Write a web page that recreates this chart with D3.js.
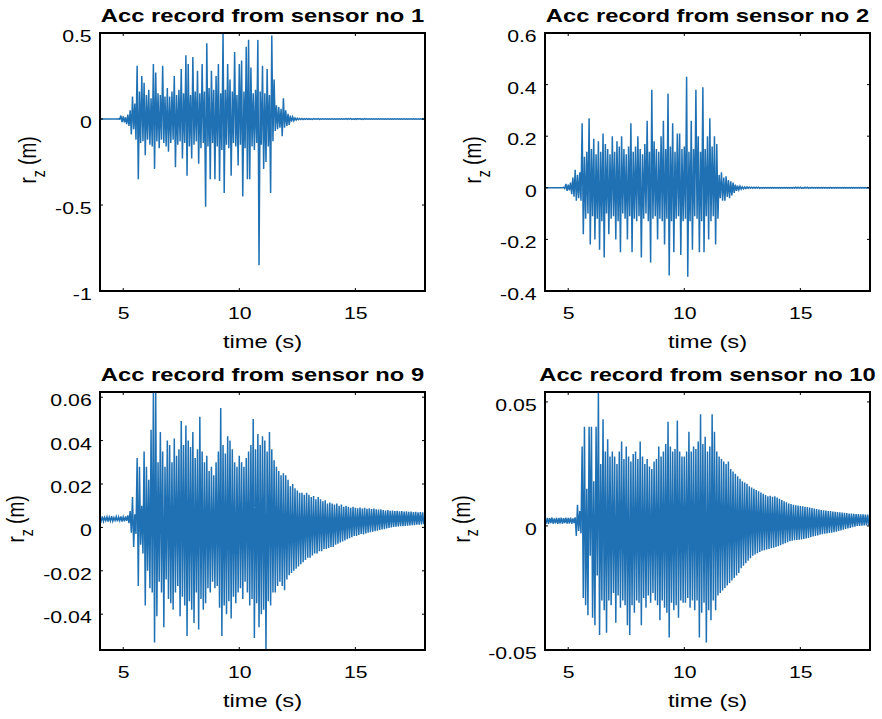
<!DOCTYPE html>
<html>
<head>
<meta charset="utf-8">
<script src="https://cdn.jsdelivr.net/npm/d3@7"></script>
<style>
  body { margin: 0; background: #fff; }
  svg { display: block; }
  text { font-family: "Liberation Sans", Arial, Helvetica, sans-serif; fill: #000; }
</style>
</head>
<body>
<script>
// sampling of the records (s)
const t0 = 4;
const dt = 0.05;

const xLimits = [4, 18];
const xTicks = [5, 10, 15];
const xTickLabels = ['5', '10', '15'];

const titles = [
    'Acc record from sensor no 1',
    'Acc record from sensor no 2',
    'Acc record from sensor no 9',
    'Acc record from sensor no 10'
];
const xLabel = 'time (s)';

const yLimits1 = [-1, 0.5];
const yTicks1 = [-1, -0.5, 0, 0.5];
const yTickLabels1 = ['-1', '-0.5', '0', '0.5'];

const yLimits2 = [-0.4, 0.6];
const yTicks2 = [-0.4, -0.2, 0, 0.2, 0.4, 0.6];
const yTickLabels2 = ['-0.4', '-0.2', '0', '0.2', '0.4', '0.6'];

const yLimits9 = [-0.0565, 0.0624];
const yTicks9 = [-0.04, -0.02, 0, 0.02, 0.04, 0.06];
const yTickLabels9 = ['-0.04', '-0.02', '0', '0.02', '0.04', '0.06'];

const yLimits10 = [-0.05, 0.054];
const yTicks10 = [-0.05, 0, 0.05];
const yTickLabels10 = ['-0.05', '0', '0.05'];

// r_z (m), one line per second, from t = 4 s
const sensor1 = [
    0,0,0,0,0,0,0,0,0,0,0,0,0,0,0,0,0.001,-0.002,0.02,-0.018,
    0.015,-0.02,0.01,-0.03,0.025,-0.04,0.05,-0.09,0.13,-0.06,0.09,-0.12,0.31,-0.35,0.16,-0.14,0.25,-0.13,0.21,-0.21,
    0.14,-0.12,0.17,-0.15,0.12,-0.16,0.32,-0.29,0.27,-0.13,0.15,-0.17,0.14,-0.12,0.31,-0.14,0.13,-0.16,0.18,-0.19,
    0.13,-0.14,0.16,-0.12,0.25,-0.28,0.14,-0.15,0.17,-0.13,0.29,-0.23,0.15,-0.14,0.37,-0.33,0.32,-0.16,0.14,-0.23,
    0.36,-0.15,0.16,-0.13,0.28,-0.26,0.15,-0.17,0.32,-0.14,0.16,-0.51,0.44,-0.16,0.18,-0.35,0.28,-0.14,0.17,-0.35,
    0.25,-0.16,0.32,-0.36,0.15,-0.18,0.5,-0.43,0.17,-0.15,0.32,-0.17,0.23,-0.33,0.16,-0.14,0.39,-0.16,0.14,-0.27,
    0.32,-0.15,0.34,-0.45,0.16,-0.17,0.42,-0.35,0.46,-0.35,0.3,-0.16,0.15,-0.18,0.17,-0.14,0.46,-0.85,0.16,-0.15,
    0.31,-0.29,0.15,-0.25,0.29,-0.16,0.14,-0.43,0.485,-0.13,0.23,-0.07,0.08,-0.06,0.07,-0.05,0.06,-0.1,0.12,-0.05,
    0.05,-0.04,0.03,-0.035,0.02,-0.015,0.012,-0.01,0.006,-0.006,0.004,-0.004,0.003,-0.003,0.003,-0.003,0.002,-0.002,0.002,-0.002,
    0.002,-0.002,0.001,-0.002,0.002,-0.001,0.001,-0.001,0.002,-0.002,0.001,-0.001,0.001,-0.001,0.001,-0.001,0.001,-0.001,0.001,-0.001,
    0.001,-0.001,0.001,-0.001,0.001,-0.001,0.001,-0.001,0.001,-0.001,0.001,-0.001,0.002,-0.002,0.002,-0.001,0.002,-0.002,0.001,-0.002,
    0.002,-0.002,0.002,-0.001,0.002,-0.002,0.001,-0.002,0.002,-0.001,0.001,-0.001,0.001,-0.001,0.001,-0.001,0.001,-0.001,0.001,-0.001,
    0.001,-0.001,0.001,-0.001,0.001,-0.001,0.001,-0.001,0.001,-0.001,0.001,-0.001,0.001,-0.001,0.001,-0.001,0.001,-0.001,0.001,-0.001,
    0.001,-0.001,0.001,-0.001,0.001,-0.001,0.001,-0.001,0.001,-0.001,0.001,-0.001,0.001,-0.001,0.001,-0.001,0.001,-0.001,0.001,-0.001,
    0
];

const sensor2 = [
    0,0,0,0,0,0,0,0,0,0,0,0,0,0,0,0,0.002,-0.003,0.015,-0.012,
    0.012,-0.01,0.02,-0.025,0.04,-0.035,0.07,-0.05,0.05,-0.04,0.06,-0.05,0.25,-0.18,0.12,-0.12,0.14,-0.1,0.27,-0.22,
    0.15,-0.11,0.19,-0.2,0.13,-0.12,0.18,-0.24,0.14,-0.13,0.21,-0.27,0.17,-0.1,0.15,-0.18,0.13,-0.12,0.2,-0.11,
    0.14,-0.2,0.18,-0.13,0.16,-0.25,0.2,-0.1,0.15,-0.12,0.13,-0.2,0.16,-0.11,0.25,-0.25,0.14,-0.12,0.16,-0.13,
    0.2,-0.11,0.15,-0.27,0.13,-0.12,0.17,-0.1,0.26,-0.13,0.14,-0.29,0.38,-0.12,0.18,-0.11,0.15,-0.2,0.14,-0.12,
    0.2,-0.13,0.26,-0.22,0.15,-0.12,0.365,-0.34,0.16,-0.13,0.25,-0.25,0.14,-0.12,0.21,-0.11,0.21,-0.26,0.15,-0.13,
    0.16,-0.12,0.43,-0.345,0.14,-0.13,0.26,-0.24,0.15,-0.11,0.38,-0.12,0.2,-0.25,0.14,-0.13,0.39,-0.25,0.15,-0.11,
    0.2,-0.2,0.27,-0.13,0.16,-0.11,0.2,-0.22,0.17,-0.12,0.05,-0.04,0.06,-0.05,0.04,-0.05,0.045,-0.035,0.03,-0.04,
    0.025,-0.03,0.02,-0.02,0.012,-0.012,0.008,-0.008,0.006,-0.005,0.004,-0.004,0.003,-0.003,0.003,-0.002,0.003,-0.002,0.002,-0.002,
    0.002,-0.002,0.002,-0.001,0.002,-0.002,0.001,-0.001,0.001,-0.001,0.001,-0.001,0.001,-0.001,0.001,-0.001,0.001,-0.001,0.001,-0.001,
    0.001,-0.001,0.001,-0.001,0.001,-0.001,0.001,-0.001,0.001,-0.001,0.001,-0.001,0.001,-0.001,0.001,-0.001,0.002,-0.002,0.002,-0.001,
    0.002,-0.002,0.001,-0.002,0.002,-0.001,0.002,-0.002,0.001,-0.001,0.002,-0.001,0.001,-0.001,0.001,-0.001,0.001,-0.001,0.001,-0.001,
    0.001,-0.001,0.001,-0.001,0.001,-0.001,0.001,-0.001,0.001,-0.001,0.001,-0.001,0.001,-0.001,0.001,-0.001,0.001,-0.001,0.001,-0.001,
    0.001,-0.001,0.001,-0.001,0.001,-0.001,0.001,-0.001,0.001,-0.001,0.001,-0.001,0.001,-0.001,0.001,-0.001,0.001,-0.001,0.001,-0.001,
    0
];

const sensor9 = [
    0.0045,0.003,0.005,0.0028,0.0046,0.0031,0.0049,0.0027,0.0047,0.003,0.0052,0.0029,0.0046,0.0032,0.005,0.0028,0.0048,0.0031,0.0051,0.0027,
    0.0048,0.0028,0.005,0.003,0.0055,0.002,0.0075,-0.0025,0.014,-0.009,0.006,-0.003,0.032,-0.027,0.028,-0.008,0.01,-0.012,0.035,-0.036,
    0.028,-0.02,0.022,-0.028,0.045,-0.03,0.066,-0.053,0.066,-0.041,0.03,-0.025,0.044,-0.03,0.035,-0.046,0.028,-0.024,0.04,-0.033,
    0.038,-0.035,0.03,-0.038,0.041,-0.03,0.033,-0.027,0.036,-0.041,0.049,-0.032,0.038,-0.036,0.047,-0.05,0.04,-0.034,0.037,-0.038,
    0.044,-0.044,0.032,-0.03,0.036,-0.047,0.051,-0.033,0.035,-0.038,0.03,-0.035,0.033,-0.028,0.026,-0.03,0.028,-0.025,0.024,-0.028,
    0.03,-0.027,0.035,-0.037,0.055,-0.05,0.038,-0.036,0.034,-0.04,0.042,-0.034,0.04,-0.042,0.036,-0.032,0.03,-0.035,0.028,-0.03,
    0.033,-0.028,0.03,-0.033,0.028,-0.025,0.032,-0.03,0.035,-0.036,0.038,-0.033,0.05,-0.051,0.036,-0.035,0.043,-0.046,0.038,-0.04,
    0.042,-0.038,0.04,-0.0565,0.035,-0.034,0.044,-0.036,0.036,-0.03,0.031,-0.03,0.028,-0.027,0.026,-0.025,0.024,-0.027,0.025,-0.029,
    0.024,-0.024,0.022,-0.022,0.019,-0.021,0.02,-0.02,0.018,-0.019,0.017,-0.018,0.016,-0.017,0.016,-0.016,0.015,-0.015,0.016,-0.014,
    0.015,-0.014,0.014,-0.013,0.0145,-0.012,0.013,-0.012,0.014,-0.011,0.013,-0.011,0.012,-0.01,0.0125,-0.01,0.011,-0.0095,0.0115,-0.009,
    0.011,-0.009,0.0105,-0.008,0.011,-0.0075,0.01,-0.007,0.0105,-0.0065,0.0095,-0.006,0.01,-0.0055,0.0095,-0.005,0.009,-0.0045,0.0095,-0.004,
    0.009,-0.004,0.0088,-0.0035,0.0092,-0.003,0.0087,-0.0032,0.009,-0.0028,0.0086,-0.0025,0.0088,-0.0022,0.0085,-0.002,0.0087,-0.0018,0.0083,-0.0015,
    0.0082,-0.0012,0.0084,-0.001,0.008,-0.0008,0.0078,-0.0005,0.008,-0.0003,0.0077,0,0.0078,0.0002,0.0075,0.0003,0.0076,0.0004,0.0074,0.0005,
    0.0075,0.0006,0.0073,0.0007,0.0074,0.0008,0.0072,0.0009,0.0073,0.001,0.0071,0.001,0.0072,0.0012,0.007,0.0013,0.0071,0.0014,0.0069,0.0015,
    0.004
];

const sensor10 = [
    0.003,0.001,0.0033,0.0008,0.0031,0.0012,0.0034,0.0009,0.003,0.0011,0.0033,0.0008,0.0032,0.001,0.0034,0.0009,0.0031,0.0012,0.0033,0.001,
    0.0032,0.001,0.0034,0.0009,0.003,0.0012,0.0035,-0.004,0.0085,-0.002,0.006,-0.003,0.032,-0.029,0.04,-0.032,0.015,-0.036,0.04,-0.012,
    0.04,-0.037,0.018,-0.04,0.04,-0.02,0.054,-0.044,0.025,-0.03,0.043,-0.034,0.03,-0.043,0.035,-0.03,0.028,-0.032,0.03,-0.027,
    0.028,-0.039,0.025,-0.028,0.03,-0.033,0.034,-0.03,0.027,-0.032,0.032,-0.04,0.028,-0.044,0.026,-0.032,0.029,-0.035,0.03,-0.03,
    0.027,-0.031,0.034,-0.04,0.028,-0.029,0.025,-0.033,0.027,-0.028,0.024,-0.031,0.023,-0.027,0.026,-0.03,0.027,-0.032,0.032,-0.038,
    0.028,-0.03,0.03,-0.033,0.033,-0.035,0.042,-0.045,0.032,-0.031,0.03,-0.034,0.031,-0.032,0.0425,-0.037,0.03,-0.03,0.028,-0.031,
    0.028,-0.031,0.03,-0.029,0.038,-0.033,0.03,-0.03,0.032,-0.034,0.031,-0.03,0.034,-0.045,0.045,-0.035,0.033,-0.031,0.036,-0.047,
    0.03,-0.034,0.032,-0.038,0.045,-0.03,0.038,-0.034,0.03,-0.028,0.028,-0.027,0.027,-0.026,0.026,-0.025,0.025,-0.024,0.026,-0.023,
    0.023,-0.022,0.022,-0.021,0.021,-0.02,0.02,-0.019,0.019,-0.017,0.018,-0.016,0.0175,-0.015,0.017,-0.014,0.016,-0.013,0.0155,-0.012,
    0.015,-0.0115,0.0145,-0.011,0.014,-0.0105,0.0135,-0.01,0.013,-0.0098,0.0125,-0.0095,0.012,-0.0093,0.0122,-0.009,0.0118,-0.0088,0.012,-0.0085,
    0.0115,-0.0082,0.011,-0.0078,0.0105,-0.0074,0.01,-0.007,0.0095,-0.0066,0.009,-0.0062,0.0088,-0.006,0.0085,-0.0058,0.0083,-0.0056,0.0082,-0.0055,
    0.008,-0.0054,0.0079,-0.0052,0.0077,-0.005,0.0076,-0.0048,0.0074,-0.0045,0.0072,-0.0042,0.007,-0.004,0.0068,-0.0038,0.0066,-0.0035,0.0064,-0.0033,
    0.0063,-0.0031,0.0062,-0.003,0.006,-0.0028,0.006,-0.0027,0.0058,-0.0025,0.0057,-0.0023,0.0056,-0.002,0.0055,-0.0018,0.0054,-0.0015,0.0053,-0.0012,
    0.0052,-0.001,0.005,-0.0008,0.005,-0.0005,0.0049,-0.0003,0.0048,0,0.0048,0,0.0047,0.0001,0.0047,0.0002,0.0046,0.0002,0.0046,0.0003,
    0.002
];

// the original figure was stretched sideways, so the text is too
const sx = 1.25;
const plotW = 325;
const plotH = 258;
const tickLen = 3;
const lineColor = '#1f71b4';

const panels = [
    {title: titles[0], values: sensor1, yLimits: yLimits1, yTicks: yTicks1, yTickLabels: yTickLabels1, left: 100, top: 33},
    {title: titles[1], values: sensor2, yLimits: yLimits2, yTicks: yTicks2, yTickLabels: yTickLabels2, left: 545, top: 33},
    {title: titles[2], values: sensor9, yLimits: yLimits9, yTicks: yTicks9, yTickLabels: yTickLabels9, left: 100, top: 392},
    {title: titles[3], values: sensor10, yLimits: yLimits10, yTicks: yTicks10, yTickLabels: yTickLabels10, left: 545, top: 392}
];

const svg = d3.select('body').append('svg')
    .attr('width', 882)
    .attr('height', 719);

// plot boxes first, in the same form that rendered in the test page
const boxes = svg.append('g');
panels.forEach((p) => {
    boxes.append('rect')
        .attr('x', p.left)
        .attr('y', p.top)
        .attr('width', plotW)
        .attr('height', plotH)
        .style('fill', 'none')
        .style('stroke', 'black')
        .style('stroke-width', '2px');
});

const labelFor = (ticks, labels) => (v) => labels[ticks.indexOf(v)];
const segment = d3.line();

panels.forEach((p) => {
    const x = d3.scaleLinear().domain(xLimits).range([0, plotW]);
    const y = d3.scaleLinear().domain(p.yLimits).range([plotH, 0]);

    const g = svg.append('g')
        .attr('transform', `translate(${p.left}, ${p.top})`);

    const lineGenerator = d3.line()
        .x((d, i) => x(t0 + i * dt))
        .y((d) => Math.max(0, Math.min(plotH, y(d))));

    g.append('path')
        .datum(p.values)
        .attr('fill', 'none')
        .attr('stroke', lineColor)
        .attr('stroke-width', 1.5)
        .attr('d', lineGenerator);

    // box again on top of the record
    g.append('path')
        .attr('fill', 'none')
        .attr('stroke', 'black')
        .attr('stroke-width', 2)
        .attr('d', segment([[0, plotH], [0, 0], [plotW, 0], [plotW, plotH], [0, plotH]]));

    // tick marks on all four sides, pointing in
    const tickPath = [];
    xTicks.forEach((v) => {
        tickPath.push(segment([[x(v), plotH], [x(v), plotH - tickLen]]));
        tickPath.push(segment([[x(v), 0], [x(v), tickLen]]));
    });
    p.yTicks.forEach((v) => {
        tickPath.push(segment([[0, y(v)], [tickLen, y(v)]]));
        tickPath.push(segment([[plotW, y(v)], [plotW - tickLen, y(v)]]));
    });
    g.append('path')
        .attr('fill', 'none')
        .attr('stroke', 'black')
        .attr('stroke-width', 1)
        .attr('d', tickPath.join(''));

    // tick labels from the d3 axes
    const bottom = g.append('g')
        .attr('transform', `translate(0, ${plotH})`)
        .call(d3.axisBottom(x).tickValues(xTicks).tickFormat(labelFor(xTicks, xTickLabels)).tickSize(0));
    const left = g.append('g')
        .call(d3.axisLeft(y).tickValues(p.yTicks).tickFormat(labelFor(p.yTicks, p.yTickLabels)).tickSize(0));
    g.selectAll('.domain').remove();
    g.selectAll('.tick line').remove();

    bottom.selectAll('.tick text')
        .attr('y', null).attr('dy', null)
        .attr('font-family', null)
        .attr('font-size', 17)
        .attr('transform', `translate(0, 27.5) scale(${sx}, 1)`);

    left.selectAll('.tick text')
        .attr('x', null).attr('dy', null)
        .attr('font-family', null)
        .attr('font-size', 17)
        .attr('transform', `translate(-8.3, 8.5) scale(${sx}, 1)`);

    g.append('text')
        .attr('transform', `translate(${plotW / 2}, -10.6) scale(${sx}, 1)`)
        .attr('text-anchor', 'middle')
        .attr('font-weight', 'bold')
        .attr('font-size', 19)
        .text(p.title);

    g.append('text')
        .attr('transform', `translate(${plotW / 2}, ${plotH + 57}) scale(${sx}, 1)`)
        .attr('text-anchor', 'middle')
        .attr('font-size', 19)
        .text(xLabel);

    let widest = 0;
    left.selectAll('.tick text').each(function() {
        widest = Math.max(widest, this.getBBox().width * sx);
    });
    const labelX = -(8.3 + widest + 18.6);

    const yl = g.append('text')
        .attr('transform', `translate(${labelX}, ${plotH / 2 - 2}) scale(${sx}, 1) rotate(-90)`)
        .attr('text-anchor', 'middle')
        .attr('font-size', 19);
    yl.append('tspan').text('r');
    yl.append('tspan').attr('font-size', 14).attr('dy', 7).text('z');
    yl.append('tspan').attr('dy', -7).text(' (m)');
});
</script>
</body>
</html>
